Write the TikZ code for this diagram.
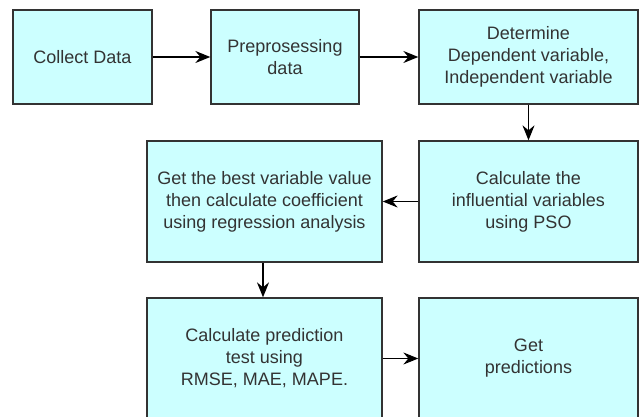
\documentclass[tikz,border=0pt]{standalone}
\usepackage{fontspec}
\setmainfont{Liberation Sans}
\usetikzlibrary{arrows.meta,positioning}

\definecolor{boxfill}{HTML}{CCFFFF}
\definecolor{boxline}{HTML}{333333}

\begin{document}
\begin{tikzpicture}[x=1pt,y=-1pt,
    stepbox/.style={draw=boxline, line width=1.3pt, fill=boxfill, align=center,
        inner sep=0pt, text=black!80,
        font=\fontsize{18}{22}\selectfont},
    flow/.style={-{Stealth[length=15pt,width=12pt,inset=5pt]}, line width=1.2pt, black}]
    \useasboundingbox (0,0) rectangle (640,417);
    \clip (0,0) rectangle (640,417);
    % top row
    \node [stepbox, minimum width=139pt, minimum height=94pt] (collect) at (82.5,57) {Collect Data};
    \node [stepbox, minimum width=148pt, minimum height=94pt] (prep) at (285,57) {Preprosessing\\data};
    \node [stepbox, minimum width=219pt, minimum height=94pt] (determine) at (528.5,57) {Determine\\Dependent variable,\\Independent variable};
    % middle row
    \node [stepbox, minimum width=219pt, minimum height=121pt] (pso) at (528.5,201.5) {Calculate the\\influential variables\\using PSO};
    \node [stepbox, minimum width=235pt, minimum height=121pt] (best) at (264.5,201.5) {Get the best variable value\\then calculate coefficient\\using regression analysis};
    % bottom row
    \node [stepbox, minimum width=235pt, minimum height=121pt] (test) at (264.5,358.5) {Calculate prediction\\test using\\RMSE, MAE, MAPE.};
    \node [stepbox, minimum width=219pt, minimum height=121pt] (result) at (528.5,358.5) {Get\\predictions};
    % connectors
    \draw [flow] (collect) -- (prep);
    \draw [flow] (prep) -- (determine);
    \draw [flow] (determine) -- (pso);
    \draw [flow] (pso) -- (best);
    \draw [flow] ([xshift=-1.5pt]best.south) -- ([xshift=-1.5pt]test.north);
    \draw [flow] (test) -- (result);
\end{tikzpicture}
\end{document}
